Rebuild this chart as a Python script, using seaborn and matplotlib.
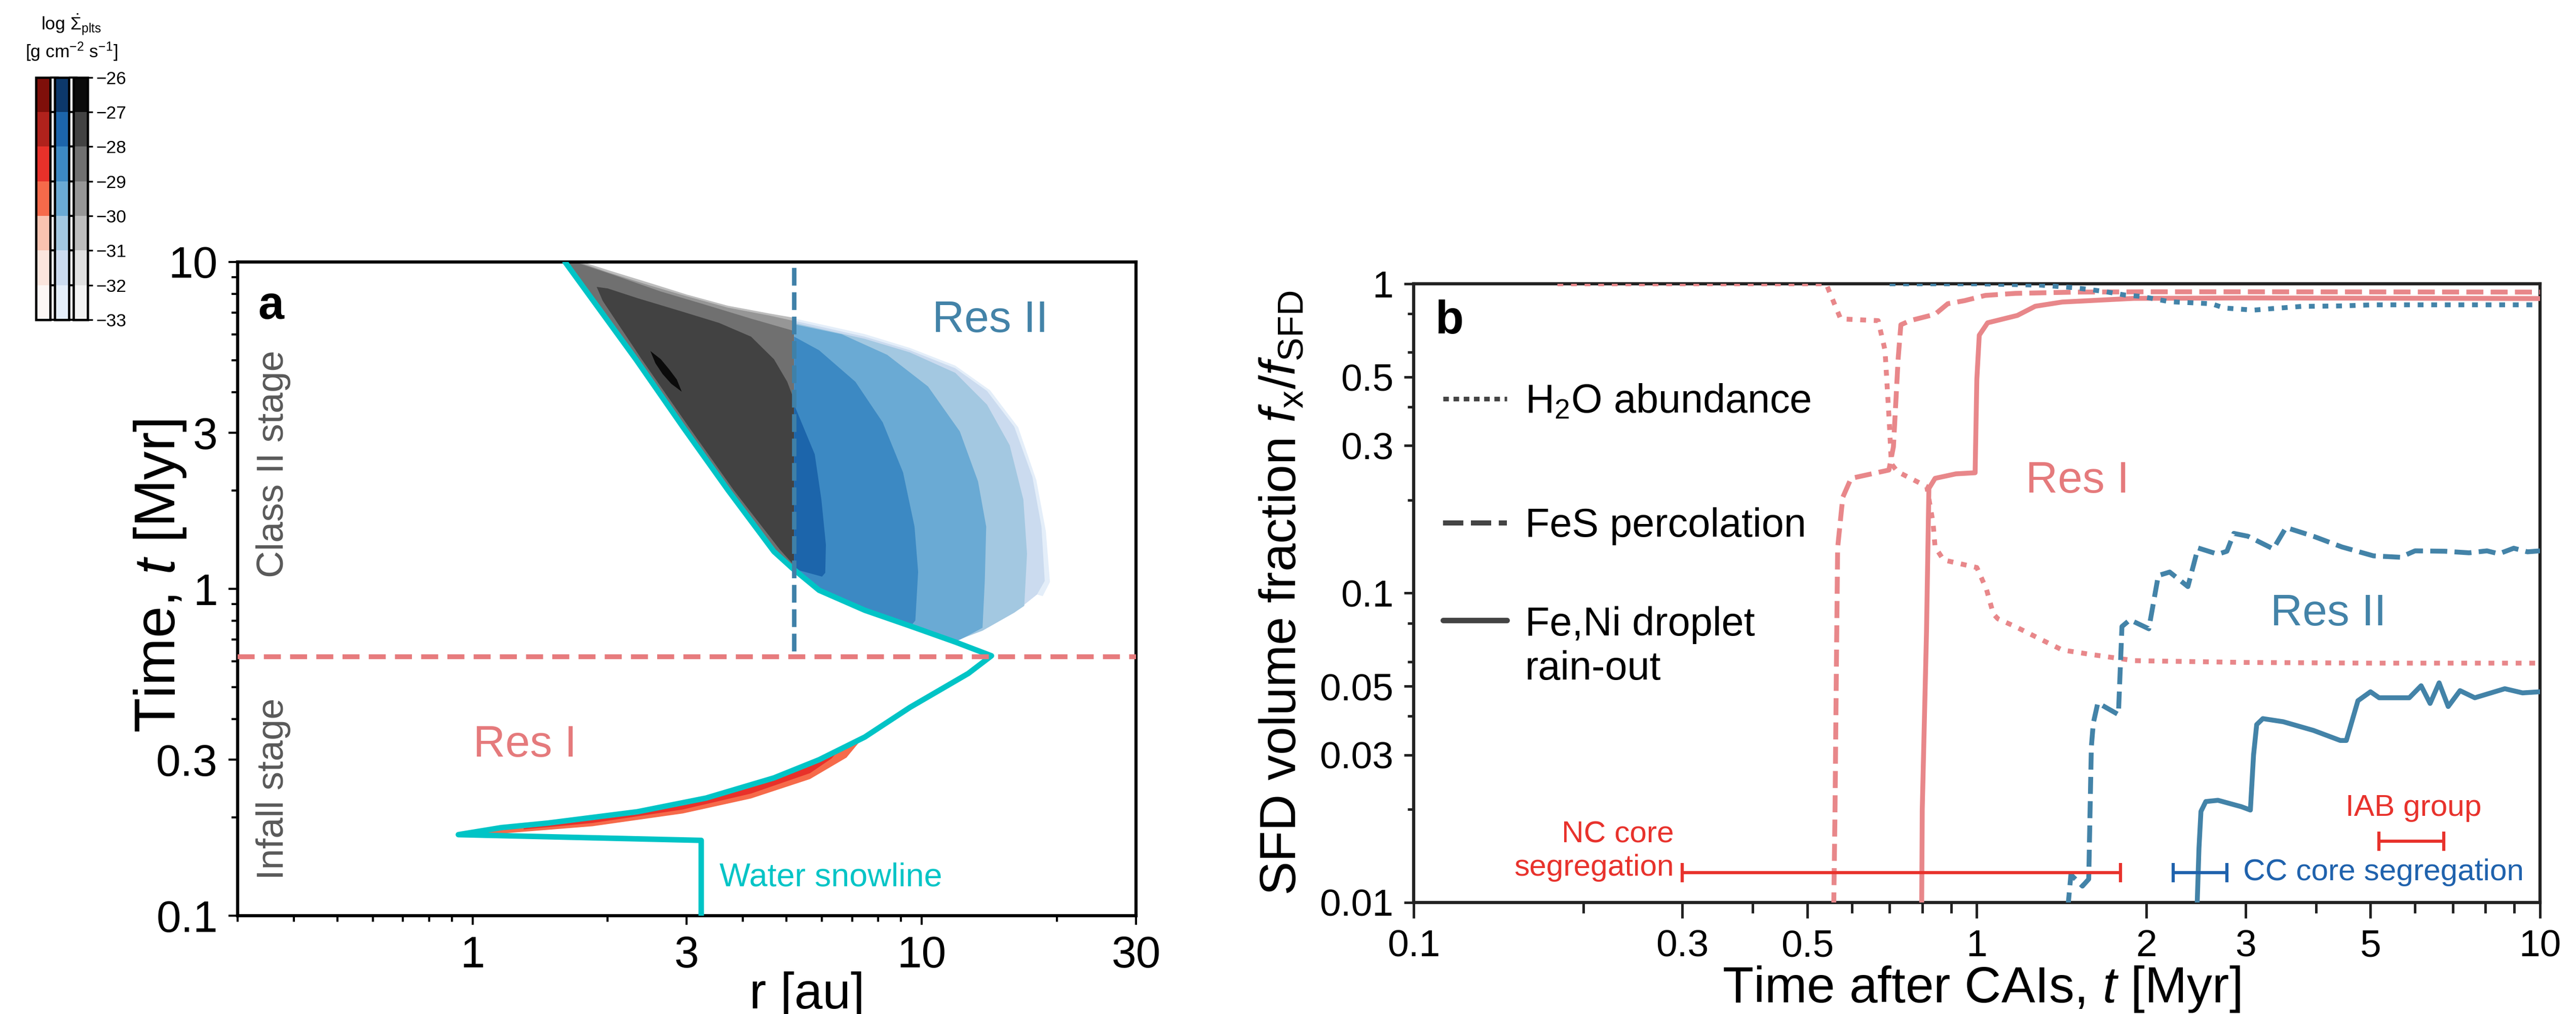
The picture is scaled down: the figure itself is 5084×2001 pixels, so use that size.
import matplotlib
matplotlib.use("Agg")
import pandas as pd
import matplotlib.pyplot as plt
import seaborn as sns
from matplotlib.colors import ListedColormap, BoundaryNorm
from matplotlib.cm import ScalarMappable
from matplotlib.lines import Line2D
from matplotlib.legend import Legend
from matplotlib.ticker import FixedLocator, FixedFormatter, NullFormatter

# ------------------------------------------------------------------
# colour levels of log10 planetesimal formation rate [g cm^-2 s^-1]
# ------------------------------------------------------------------
level_bounds = [-33, -32, -31, -30, -29, -28, -27, -26]
reds_levels = ["#fdf7f5", "#fbe5dd", "#f9c3b0", "#f66a4a", "#e8312a", "#b0221c", "#7f0f0a"]
blues_levels = ["#e4eef9", "#cbdbef", "#a3c8e1", "#6aaad4", "#3c89c3", "#1c65ab", "#0c386b"]
greys_levels = ["#f3f3f3", "#e0e0e0", "#bdbdbd", "#969696", "#707070", "#424242", "#0b0b0b"]

# ------------------------------------------------------------------
# panel a : water snowline r_snow(t)
# ------------------------------------------------------------------
snow_t = [0.10, 0.170, 0.177, 0.186, 0.192, 0.208, 0.229, 0.264, 0.300, 0.352, 0.434,
          0.551, 0.624, 0.687, 0.770, 0.860, 0.990, 1.16, 1.30, 2.00, 3.13, 5.04, 10.0]
snow_r = [3.23, 3.23, 0.93, 1.16, 1.47, 2.33, 3.31, 4.69, 5.91, 7.47, 9.42,
          12.7, 14.3, 11.9, 9.42, 7.47, 5.91, 5.14, 4.69, 3.71, 2.94, 2.31, 1.607]

infall_end_t = 0.62        # end of the infall stage [Myr]
res_split_r = 5.2          # boundary between the two source regions [au]
res_split_t0 = 0.645

# inner (class II) branch of the snowline, used to close the grey levels
snow_upper_r = [5.2, 5.14, 4.69, 3.71, 2.94, 2.31, 1.607, 1.56]
snow_upper_t = [1.15, 1.16, 1.30, 2.00, 3.13, 5.04, 10.0, 10.6]

# grey levels (r < 5.2 au): upper edges
grey_m31_r = [1.60, 1.72, 2.0, 2.5, 3.0, 3.7, 4.6, 5.2]
grey_m31_t = [10.6, 10.1, 9.45, 8.6, 7.95, 7.35, 6.95, 6.75]
grey_m30_r = [1.62, 1.70, 2.0, 2.5, 3.0, 3.7, 4.6, 5.2]
grey_m30_t = [10.6, 10.05, 9.3, 8.45, 7.85, 7.25, 6.85, 6.6]
grey_m29_r = [1.62, 1.69, 2.08, 2.62, 3.31, 4.17, 5.2]
grey_m29_t = [10.6, 10.0, 9.09, 8.13, 7.39, 6.71, 6.15]
grey_m28_r = [1.89, 2.0, 2.33, 2.94, 3.54, 4.17, 4.69, 5.02, 5.2, 5.2, 4.83, 3.82, 3.03, 2.38, 1.95]
grey_m28_t = [8.39, 8.3, 7.75, 7.04, 6.51, 5.91, 5.04, 4.30, 3.78, 1.18, 1.32, 2.0, 3.13, 5.04, 7.6]
grey_m27_r = [2.489, 2.626, 2.739, 2.850, 2.923, 2.770, 2.650, 2.554]
grey_m27_t = [5.34, 5.04, 4.70, 4.37, 4.01, 4.24, 4.54, 4.90]

# blue levels (r > 5.2 au): lower edge shared by all levels
blue_bottom_r = [18.06, 16.08, 13.66, 12.45, 11.9, 9.42, 7.47, 5.91, 5.2]
blue_bottom_t = [0.961, 0.846, 0.745, 0.71, 0.69, 0.77, 0.86, 0.99, 1.15]
blue_m33_r = [5.2, 7.46, 9.41, 11.88, 14.2, 16.4, 18.0, 18.9, 19.3, 18.6]
blue_m33_t = [6.72, 6.02, 5.46, 4.82, 4.05, 3.12, 2.15, 1.5, 1.05, 0.95]
blue_m32_r = [5.2, 7.46, 9.41, 11.88, 13.98, 16.08, 17.64, 18.48, 18.79, 18.06]
blue_m32_t = [6.61, 5.91, 5.37, 4.73, 4.03, 3.13, 2.20, 1.55, 1.057, 0.961]
blue_m31_r = [5.2, 7.46, 9.41, 11.88, 13.98, 15.70, 16.84, 17.16, 16.92]
blue_m31_t = [6.51, 5.82, 5.29, 4.58, 3.66, 2.75, 1.876, 1.28, 0.887]
blue_m30_r = [5.2, 6.64, 8.38, 10.33, 12.16, 13.35, 13.92, 13.82, 13.66]
blue_m30_t = [6.45, 6.01, 5.20, 4.16, 3.03, 2.13, 1.55, 1.057, 0.76]
blue_m29_r = [5.2, 5.91, 7.12, 8.19, 9.09, 9.64, 9.82, 9.68, 9.5]
blue_m29_t = [5.91, 5.37, 4.30, 3.23, 2.27, 1.55, 1.127, 0.80, 0.775]
blue_m28_r = [5.2, 5.78, 5.98, 6.12, 6.1, 6.0, 5.2]
blue_m28_t = [3.66, 2.58, 1.876, 1.364, 1.12, 1.09, 1.15]

# red levels (infall stage, reservoir I)
red_m30_r = [1.0, 1.16, 1.47, 2.33, 3.31, 4.69, 5.91, 7.0, 7.38, 6.8, 5.64, 4.17, 2.94, 1.85, 1.16, 1.0]
red_m30_t = [0.180, 0.186, 0.192, 0.208, 0.229, 0.264, 0.300, 0.336, 0.349, 0.3045, 0.2618, 0.2284,
             0.2055, 0.1878, 0.1784, 0.178]
red_m29_r = [1.3, 1.47, 2.33, 3.31, 4.69, 5.91, 6.5, 6.3, 5.64, 4.17, 2.94, 1.85, 1.3]
red_m29_t = [0.188, 0.192, 0.208, 0.229, 0.264, 0.300, 0.318, 0.3027, 0.2729, 0.2364, 0.2113,
             0.1922, 0.1837]

# ------------------------------------------------------------------
# panel b : SFD volume fractions vs time
# ------------------------------------------------------------------
res1_h2o_t = [0.18, 0.54, 0.573, 0.668, 0.687, 0.699, 0.705, 0.723, 0.815, 0.836, 0.843, 0.873,
              1.00, 1.04, 1.07, 1.09, 1.17, 1.285, 1.418, 1.60, 1.905, 3.0, 5.0, 10.0]
res1_h2o_f = [1.0, 1.0, 0.77, 0.76, 0.61, 0.359, 0.262, 0.247, 0.221, 0.169, 0.141, 0.128,
              0.121, 0.103, 0.0856, 0.0826, 0.078, 0.0716, 0.0655, 0.0633, 0.0605, 0.0597, 0.0594, 0.0594]
res1_fes_t = [0.557, 0.560, 0.563, 0.566, 0.578, 0.598, 0.698, 0.711, 0.725, 0.733, 0.761, 0.843,
              0.888, 0.951, 1.035, 1.17, 1.5, 2.0, 3.0, 10.0]
res1_fes_f = [0.0095, 0.02, 0.055, 0.14, 0.204, 0.235, 0.25, 0.297, 0.574, 0.737, 0.76, 0.797,
              0.862, 0.882, 0.917, 0.931, 0.94, 0.942, 0.942, 0.94]
res1_feni_t = [0.798, 0.80, 0.814, 0.822, 0.843, 0.918, 0.993, 1.0, 1.01, 1.045, 1.18, 1.27,
               1.418, 1.90, 3.0, 10.0]
res1_feni_f = [0.0095, 0.02, 0.075, 0.218, 0.235, 0.243, 0.245, 0.491, 0.682, 0.748, 0.79, 0.846,
               0.873, 0.897, 0.90, 0.896]

res2_h2o_t = [0.70, 1.0, 1.3, 1.5, 1.68, 1.83, 1.96, 2.2, 2.61, 2.75, 3.10, 3.31, 3.77, 4.42,
              5.06, 7.0, 10.0]
res2_h2o_f = [1.0, 1.0, 0.99, 0.97, 0.945, 0.92, 0.91, 0.875, 0.862, 0.835, 0.822, 0.83, 0.845,
              0.848, 0.855, 0.855, 0.855]
res2_fes_t = [1.45, 1.469, 1.54, 1.58, 1.597, 1.61, 1.64, 1.784, 1.81, 1.87, 2.02, 2.10, 2.20,
              2.37, 2.47, 2.68, 2.78, 2.86, 3.03, 3.36, 3.54, 3.96, 4.45, 5.06, 5.65, 6.0, 6.78,
              7.48, 8.05, 8.45, 8.98, 9.5, 10.0]
res2_fes_f = [0.0095, 0.0123, 0.0113, 0.0119, 0.0318, 0.038, 0.0442, 0.0405, 0.078, 0.082, 0.0767,
              0.114, 0.117, 0.105, 0.140, 0.1336, 0.1366, 0.156, 0.1527, 0.139, 0.163, 0.1527,
              0.141, 0.132, 0.1306, 0.137, 0.1366, 0.135, 0.137, 0.134, 0.1397, 0.136, 0.137]
res2_feni_t = [2.46, 2.48, 2.50, 2.55, 2.68, 2.95, 3.06, 3.10, 3.14, 3.22, 3.50, 3.96, 4.42, 4.53,
               4.75, 5.0, 5.18, 5.86, 6.15, 6.38, 6.62, 6.87, 7.21, 7.66, 8.66, 9.31, 10.0]
res2_feni_f = [0.0095, 0.015, 0.0197, 0.0212, 0.0214, 0.0204, 0.0199, 0.030, 0.0376, 0.0393, 0.0384,
               0.036, 0.0334, 0.0334, 0.0449, 0.048, 0.0459, 0.0459, 0.0502, 0.044, 0.0513, 0.043,
               0.0484, 0.0459, 0.0491, 0.0476, 0.048]

# meteorite age constraints [Myr]
nc_core_range = [0.30, 1.80]
nc_core_level = 0.0125
cc_core_range = [2.23, 2.78]
cc_core_level = 0.0125
iab_range = [5.18, 6.74]
iab_level = 0.0158

# ------------------------------------------------------------------
# style
# ------------------------------------------------------------------
sns.set_theme(style="white")
plt.rcParams["font.family"] = ["Liberation Sans", "DejaVu Sans"]
plt.rcParams["mathtext.fontset"] = "custom"
plt.rcParams["mathtext.rm"] = "Liberation Sans"
plt.rcParams["mathtext.it"] = "Liberation Sans:italic"
plt.rcParams["mathtext.bf"] = "Liberation Sans:bold"
plt.rcParams["text.color"] = "black"
plt.rcParams["axes.labelcolor"] = "black"
plt.rcParams["xtick.color"] = "black"
plt.rcParams["ytick.color"] = "black"

CYAN = "#00c4c6"
PINK = "#e8878a"
PINK_TXT = "#e57a7c"
STEEL = "#4383a8"
RED = "#e8322c"
CCBLUE = "#1f62ad"

fig = plt.figure(figsize=(5084 / 300, 2001 / 300), dpi=300)
ax_a = fig.add_axes([0.09225, 0.09695, 0.34874, 0.64468])
ax_b = fig.add_axes([0.54878, 0.10995, 0.43725, 0.61019])

# ------------------------------------------------------------------
# panel a
# ------------------------------------------------------------------
ax_a.set_xscale("log")
ax_a.set_yscale("log")


def blue_tail(r_end):
    keep = [i for i, r in enumerate(blue_bottom_r) if r < r_end]
    return [blue_bottom_r[i] for i in keep], [blue_bottom_t[i] for i in keep]


grey_layers = [
    (grey_m31_r + snow_upper_r, grey_m31_t + snow_upper_t, greys_levels[2]),
    (grey_m30_r + snow_upper_r, grey_m30_t + snow_upper_t, greys_levels[3]),
    (grey_m29_r + snow_upper_r, grey_m29_t + snow_upper_t, greys_levels[4]),
    (grey_m28_r, grey_m28_t, greys_levels[5]),
    (grey_m27_r, grey_m27_t, greys_levels[6]),
]
blue_layers = []
for edge_r, edge_t, col in [(blue_m33_r, blue_m33_t, blues_levels[0]),
                            (blue_m32_r, blue_m32_t, blues_levels[1]),
                            (blue_m31_r, blue_m31_t, blues_levels[2]),
                            (blue_m30_r, blue_m30_t, blues_levels[3]),
                            (blue_m29_r, blue_m29_t, blues_levels[4])]:
    tr, tt = blue_tail(edge_r[-1])
    blue_layers.append((edge_r + tr, edge_t + tt, col))
blue_layers.append((blue_m28_r, blue_m28_t, blues_levels[5]))
red_layers = [(red_m30_r, red_m30_t, reds_levels[3]), (red_m29_r, red_m29_t, reds_levels[4])]

for pr, pt, col in grey_layers + blue_layers + red_layers:
    ax_a.fill(pr, pt, color=col, lw=0, zorder=1)

snow_df = pd.DataFrame({"r": snow_r, "t": snow_t})
sns.lineplot(data=snow_df, x="r", y="t", sort=False, estimator=None, color=CYAN,
             linewidth=2.6, ax=ax_a, zorder=4, legend=False)
ax_a.axhline(infall_end_t, color="#e77b7d", lw=2.3, linestyle=(0, (3.5, 1.9)), zorder=5)
ax_a.vlines(res_split_r, res_split_t0, 10, color="#3f80a8", lw=2.1,
            linestyles=[(0, (4.0, 1.5))], zorder=5)

ax_a.set_xlim(0.3, 30)
ax_a.set_ylim(0.1, 10)
ax_a.xaxis.set_major_locator(FixedLocator([1, 3, 10, 30]))
ax_a.xaxis.set_major_formatter(FixedFormatter(["1", "3", "10", "30"]))
ax_a.xaxis.set_minor_locator(FixedLocator([0.3, 0.4, 0.5, 0.6, 0.7, 0.8, 0.9, 2, 4, 5, 6, 7, 8, 9, 20]))
ax_a.xaxis.set_minor_formatter(NullFormatter())
ax_a.yaxis.set_major_locator(FixedLocator([0.1, 0.3, 1, 3, 10]))
ax_a.yaxis.set_major_formatter(FixedFormatter(["0.1", "0.3", "1", "3", "10"]))
ax_a.yaxis.set_minor_locator(FixedLocator([0.2, 0.4, 0.5, 0.6, 0.7, 0.8, 0.9, 2, 4, 5, 6, 7, 8, 9]))
ax_a.yaxis.set_minor_formatter(NullFormatter())
ax_a.tick_params(which="both", bottom=True, left=True, top=False, right=False,
                 direction="out", width=1.0, labelsize=21, pad=5)
ax_a.tick_params(which="major", length=4.4)
ax_a.tick_params(which="minor", length=2.9)
for sp in ax_a.spines.values():
    sp.set_linewidth(1.5)
    sp.set_color("black")

ax_a.set_xlabel("r [au]", fontsize=24)
ax_a.xaxis.set_label_coords(0.634, -0.085)
ax_a.set_ylabel("Time, $t$ [Myr]", fontsize=27)
ax_a.yaxis.set_label_coords(-0.055, 0.52)

ax_a.text(0.023, 0.965, "a", transform=ax_a.transAxes, fontsize=22, fontweight="bold",
          ha="left", va="top")
ax_a.text(0.0395, 0.691, "Class II stage", transform=ax_a.transAxes, rotation=90,
          fontsize=17.8, color="#595959", ha="center", va="center")
ax_a.text(0.0395, 0.194, "Infall stage", transform=ax_a.transAxes, rotation=90,
          fontsize=17.8, color="#595959", ha="center", va="center")
ax_a.text(1.31, 0.333, "Res I", color=PINK_TXT, fontsize=21, ha="center", va="center")
ax_a.text(14.2, 6.61, "Res II", color=STEEL, fontsize=21, ha="center", va="center")
ax_a.text(3.55, 0.131, "Water snowline", color=CYAN, fontsize=15.5, ha="left", va="center")

# ------------------------------------------------------------------
# panel b
# ------------------------------------------------------------------
ax_b.set_xscale("log")
ax_b.set_yscale("log")

DOT = (0, (1.2, 1.6))
DASH = (0, (3.5, 1.5))
series = [
    (res1_h2o_t, res1_h2o_f, PINK, DOT),
    (res1_fes_t, res1_fes_f, PINK, DASH),
    (res1_feni_t, res1_feni_f, PINK, "-"),
    (res2_h2o_t, res2_h2o_f, STEEL, DOT),
    (res2_fes_t, res2_fes_f, STEEL, DASH),
    (res2_feni_t, res2_feni_f, STEEL, "-"),
]
for t, f, col, ls in series:
    df = pd.DataFrame({"t": t, "f": f})
    sns.lineplot(data=df, x="t", y="f", sort=False, estimator=None, color=col,
                 linewidth=2.3, linestyle=ls, ax=ax_b, legend=False, zorder=3)

for rng, lvl, col in [(nc_core_range, nc_core_level, RED),
                      (cc_core_range, cc_core_level, CCBLUE),
                      (iab_range, iab_level, RED)]:
    mid = (rng[0] * rng[1]) ** 0.5
    ax_b.errorbar([mid], [lvl], xerr=[[mid - rng[0]], [rng[1] - mid]], fmt="none",
                  ecolor=col, elinewidth=1.5, capsize=4.5, capthick=1.5, zorder=4)

ax_b.text(0.29, 0.01463, "NC core\nsegregation", color=RED, fontsize=14.5, ha="right",
          va="center", multialignment="right", linespacing=1.25)
ax_b.text(2.97, cc_core_level, "CC core segregation", color=CCBLUE, fontsize=14.5,
          ha="left", va="center")
ax_b.text(5.96, 0.0202, "IAB group", color=RED, fontsize=14.5, ha="center", va="center")
ax_b.text(1.51, 0.23, "Res I", color=PINK_TXT, fontsize=21, ha="center", va="center")
ax_b.text(4.21, 0.0858, "Res II", color=STEEL, fontsize=21, ha="center", va="center")
ax_b.text(0.0193, 0.975, "b", transform=ax_b.transAxes, fontsize=22, fontweight="bold",
          ha="left", va="top")

ax_b.set_xlim(0.1, 10)
ax_b.set_ylim(0.01, 1)
ax_b.xaxis.set_major_locator(FixedLocator([0.1, 0.3, 0.5, 1, 2, 3, 5, 10]))
ax_b.xaxis.set_major_formatter(FixedFormatter(["0.1", "0.3", "0.5", "1", "2", "3", "5", "10"]))
ax_b.xaxis.set_minor_locator(FixedLocator([0.2, 0.4, 0.6, 0.7, 0.8, 0.9, 4, 6, 7, 8, 9]))
ax_b.xaxis.set_minor_formatter(NullFormatter())
ax_b.yaxis.set_major_locator(FixedLocator([0.01, 0.03, 0.05, 0.1, 0.3, 0.5, 1]))
ax_b.yaxis.set_major_formatter(FixedFormatter(["0.01", "0.03", "0.05", "0.1", "0.3", "0.5", "1"]))
ax_b.yaxis.set_minor_locator(FixedLocator([0.02, 0.04, 0.06, 0.08, 0.2, 0.4, 0.6, 0.8]))
ax_b.yaxis.set_minor_formatter(NullFormatter())
ax_b.tick_params(which="both", bottom=True, left=True, top=False, right=False,
                 direction="out", width=1.2, labelsize=18, pad=5, color="#222222")
ax_b.tick_params(axis="x", which="major", length=7.5)
ax_b.tick_params(axis="x", which="minor", length=5.0)
ax_b.tick_params(axis="y", which="major", length=4.5)
ax_b.tick_params(axis="y", which="minor", length=3.0)
for sp in ax_b.spines.values():
    sp.set_linewidth(1.5)
    sp.set_color("#222222")

ax_b.set_xlabel("Time after CAIs, $t$ [Myr]", fontsize=24)
ax_b.xaxis.set_label_coords(0.504, -0.10)
ax_b.set_ylabel("SFD volume fraction $f_{\\rm x}/f_{\\rm SFD}$", fontsize=24)
ax_b.yaxis.set_label_coords(-0.095, 0.5)

# line-style key: one row per process
key_handles = [Line2D([], [], color="#444444", lw=2.2, linestyle=(0, (1.2, 1.0))),
               Line2D([], [], color="#444444", lw=2.4, linestyle=(0, (4.0, 1.5))),
               Line2D([], [], color="#444444", lw=2.6, solid_capstyle="round")]
key_labels = ["H$_2$O abundance", "FeS percolation", "Fe,Ni droplet\nrain-out"]
key_rows = [0.8084, 0.6077, 0.4128]
for h, lab, yrow in zip(key_handles, key_labels, key_rows):
    lg = Legend(ax_b, [h], [lab], loc="center left", bbox_to_anchor=(0.026, yrow),
                frameon=False, fontsize=19, handlelength=1.6, handletextpad=0.45,
                borderpad=0, borderaxespad=0)
    if "\n" in lab:
        # centre the key line between the two text lines
        for hl in lg.legend_handles:
            hl.set_ydata([y + 13.0 for y in hl.get_ydata()])
    ax_b.add_artist(lg)

# ------------------------------------------------------------------
# stacked colour bars
# ------------------------------------------------------------------
norm = BoundaryNorm(level_bounds, 7)
bar_x = [0.01397, 0.02124, 0.02852]
for x0, cols in zip(bar_x, [reds_levels, blues_levels, greys_levels]):
    cax = fig.add_axes([x0, 0.6847, 0.00551, 0.2389])
    cb = fig.colorbar(ScalarMappable(norm=norm, cmap=ListedColormap(cols)), cax=cax,
                      orientation="vertical")
    cb.outline.set_linewidth(1.1)
    cb.outline.set_edgecolor("black")
    if cols is greys_levels:
        cb.set_ticks(level_bounds)
        cb.set_ticklabels(["\u2212%d" % abs(v) for v in level_bounds])
        cax.tick_params(right=True, length=2.4, width=0.8, labelsize=8.5, pad=1.5)
    else:
        cb.set_ticks([])

fig.text(0.0277, 0.9755, r"log $\dot{\Sigma}_{\rm plts}$", fontsize=8.5, ha="center", va="center")
fig.text(0.0277, 0.949, r"[g cm$^{-2}$ s$^{-1}$]", fontsize=8.5, ha="center", va="center")

fig.savefig("out.png", dpi=300)
